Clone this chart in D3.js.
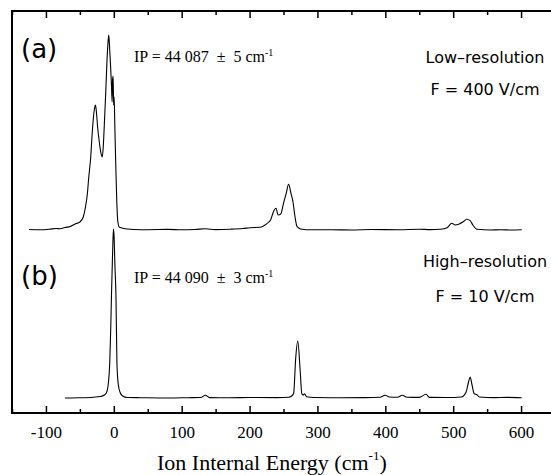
<!DOCTYPE html>
<html>
<head>
<meta charset="utf-8">
<script src="https://cdn.jsdelivr.net/npm/d3@7"></script>
<style>
  body { margin: 0; background: #fff; }
</style>
</head>
<body>
<div id="chart"></div>
<script>
// low-resolution spectrum (a): ion internal energy (cm-1) and signal (arb. units)
var energyA = [-125, -110, -95, -85, -79, -72, -64, -57, -50, -45, -42, -39, -37, -34, -32, -30, -28, -27,
  -25.5, -24, -21, -19, -17, -15.5, -14, -12, -10, -8.5, -7.5, -6.5, -5, -3.5, -2.5, -1.8, -1, -0.3, 0.5,
  1.5, 3, 4.5, 6, 8, 12, 20, 30, 50, 80, 100, 120, 135, 150, 172, 190, 201, 215, 226, 231, 235, 239, 242,
  246, 250, 254, 257.5, 261, 264, 267, 270, 277, 290, 320, 350, 380, 420, 450, 466, 481, 491, 498, 503,
  508, 515, 520, 525, 529, 535, 555, 570, 585, 601];
var signalA = [0.5, 0.3, 0.8, 1.5, 1.2, 2.5, 3.5, 6, 8, 13, 22, 36, 52, 73, 95, 113, 123, 125,
  117, 104, 86, 77, 73, 84, 105, 136, 170, 188, 195, 186, 167, 146, 128, 151, 154, 125, 133,
  104, 62, 26, 8, 3, 2, 1, 0.5, 0.3, 0.6, 0.2, 0.5, 1.2, 0.4, 0.8, 1.5, 2.3, 2.7, 6.7, 10, 18, 21.7, 15,
  16, 26.7, 36.7, 45.7, 36.7, 28, 13, 3.3, 0.7, 0.2, 0.3, 0, 0.5, 0.3, 0.8, 0.4, 0.7, 2.3, 6.7, 5,
  5.7, 8.3, 10.7, 9.3, 5, 0.7, 0, 0.3, 0, 0.2];

// high-resolution spectrum (b)
var energyB = [-72, -50, -30, -20, -14, -11, -8, -6, -4.5, -3.5, -2, -0.8, -0.3, 0.5, 1.5, 3.2, 4.6, 6.5,
  9.6, 13, 20, 40, 80, 110, 128, 135, 141, 170, 200, 240, 258, 263, 265, 268, 271, 274.7, 277, 279, 281,
  284, 295, 330, 370, 392, 400, 406, 418, 425, 432, 450, 460, 465, 490, 512, 519, 522.6, 525, 527.5, 531,
  535, 538.5, 560, 580, 601];
var signalB = [0, 0.2, 0.8, 1.5, 3, 5, 15, 35, 70, 101, 140, 165, 169, 160, 135, 101, 35, 14,
  5, 2, 0.5, 0.3, 0, 0.3, 0.5, 2.7, 0.4, 0.2, 0.5, 0.4, 0.8, 2.5, 5, 40, 57, 26, 4.3, 3, 4.3,
  1.2, 0.5, 0.3, 0.4, 0.8, 2.7, 1, 0.8, 2.7, 0.8, 0.6, 3.7, 0.6, 0.5, 1, 6, 16, 21, 14, 4.3,
  3.3, 1, 0.4, 0.6, 0.3];

var majorTicks = [-100, 0, 100, 200, 300, 400, 500, 600];
var minorTicks = [-150, -50, 50, 150, 250, 350, 450, 550];

var svgWidth = 551;
var svgHeight = 475;

var frame = { left: 12, top: 11, right: 555, bottom: 413 };
var baseA = 230;
var baseB = 398;

var svg = d3.select("#chart")
  .append("svg")
  .attr("width", svgWidth)
  .attr("height", svgHeight);

var x = d3.scaleLinear()
  .domain([-150, 650])
  .range([frame.left, frame.right]);

var yA = d3.scaleLinear().domain([0, 200]).range([baseA, baseA - 200]);
var yB = d3.scaleLinear().domain([0, 200]).range([baseB, baseB - 200]);

// traces
var lineA = d3.line()
  .x((d, i) => x(energyA[i]))
  .y(d => yA(d))
  .curve(d3.curveMonotoneX);

var lineB = d3.line()
  .x((d, i) => x(energyB[i]))
  .y(d => yB(d))
  .curve(d3.curveMonotoneX);

svg.append("path")
  .attr("d", lineA(signalA))
  .attr("fill", "none")
  .attr("stroke", "#000")
  .attr("stroke-width", 1.1);

svg.append("path")
  .attr("d", lineB(signalB))
  .attr("fill", "none")
  .attr("stroke", "#000")
  .attr("stroke-width", 1.1);

// axes, ticks pointing inward
var xBottom = d3.axisBottom(x)
  .tickValues(majorTicks)
  .tickSize(-7)
  .tickPadding(13)
  .tickFormat(d => String(d));

var gx = svg.append("g")
  .attr("transform", `translate(0, ${frame.bottom})`)
  .call(xBottom);
gx.select(".domain").remove();
gx.selectAll("text")
  .attr("font-size", "17px")
  .attr("font-family", "Liberation Serif, serif");
gx.selectAll("line").attr("stroke-width", 1.5);

var gxMinor = svg.append("g")
  .attr("transform", `translate(0, ${frame.bottom})`)
  .call(d3.axisBottom(x).tickValues(minorTicks).tickSize(-4).tickFormat(""));
gxMinor.select(".domain").remove();
gxMinor.selectAll("line").attr("stroke-width", 1.5);

var gTop = svg.append("g")
  .attr("transform", `translate(0, ${frame.top})`)
  .call(d3.axisTop(x).tickValues(majorTicks).tickSize(-7).tickFormat(""));
gTop.select(".domain").remove();
gTop.selectAll("line").attr("stroke-width", 1.5);

var gTopMinor = svg.append("g")
  .attr("transform", `translate(0, ${frame.top})`)
  .call(d3.axisTop(x).tickValues(minorTicks).tickSize(-4).tickFormat(""));
gTopMinor.select(".domain").remove();
gTopMinor.selectAll("line").attr("stroke-width", 1.5);

svg.append("rect")
  .attr("x", frame.left)
  .attr("y", frame.top)
  .attr("width", frame.right - frame.left)
  .attr("height", frame.bottom - frame.top)
  .attr("fill", "none")
  .attr("stroke", "#000")
  .attr("stroke-width", 2);

// axis title
var title = svg.append("text")
  .attr("x", 157)
  .attr("y", 470)
  .attr("font-family", "Liberation Serif, serif")
  .attr("font-size", "22px")
  .attr("fill", "#000");
title.append("tspan").text("Ion Internal Energy (cm");
title.append("tspan").attr("font-size", "13px").attr("dy", -10).text("-1");
title.append("tspan").attr("dy", 10).text(")");

// panel labels
svg.append("text")
  .attr("x", 21).attr("y", 58)
  .attr("font-family", "DejaVu Sans, sans-serif")
  .attr("font-size", "26px")
  .text("(a)");

svg.append("text")
  .attr("x", 21).attr("y", 285)
  .attr("font-family", "DejaVu Sans, sans-serif")
  .attr("font-size", "26px")
  .text("(b)");

function ipLabel(yPos, txt) {
  var t = svg.append("text")
    .attr("x", 134).attr("y", yPos)
    .attr("font-family", "Liberation Serif, serif")
    .attr("font-size", "16px")
    .attr("xml:space", "preserve");
  t.append("tspan").text(txt);
  t.append("tspan").attr("font-size", "10px").attr("dy", -6).text("-1");
}
ipLabel(62, "IP = 44 087  \u00b1  5 cm");
ipLabel(283, "IP = 44 090  \u00b1  3 cm");

var notes = [
  { t: "Low\u2013resolution", y: 63 },
  { t: "F = 400 V/cm", y: 95 },
  { t: "High\u2013resolution", y: 267 },
  { t: "F = 10 V/cm", y: 302 }
];
svg.selectAll(".note")
  .data(notes)
  .enter()
  .append("text")
  .attr("class", "note")
  .attr("x", 485)
  .attr("y", d => d.y)
  .attr("text-anchor", "middle")
  .attr("font-family", "DejaVu Sans, sans-serif")
  .attr("font-size", "16px")
  .attr("xml:space", "preserve")
  .text(d => d.t);
</script>
</body>
</html>
